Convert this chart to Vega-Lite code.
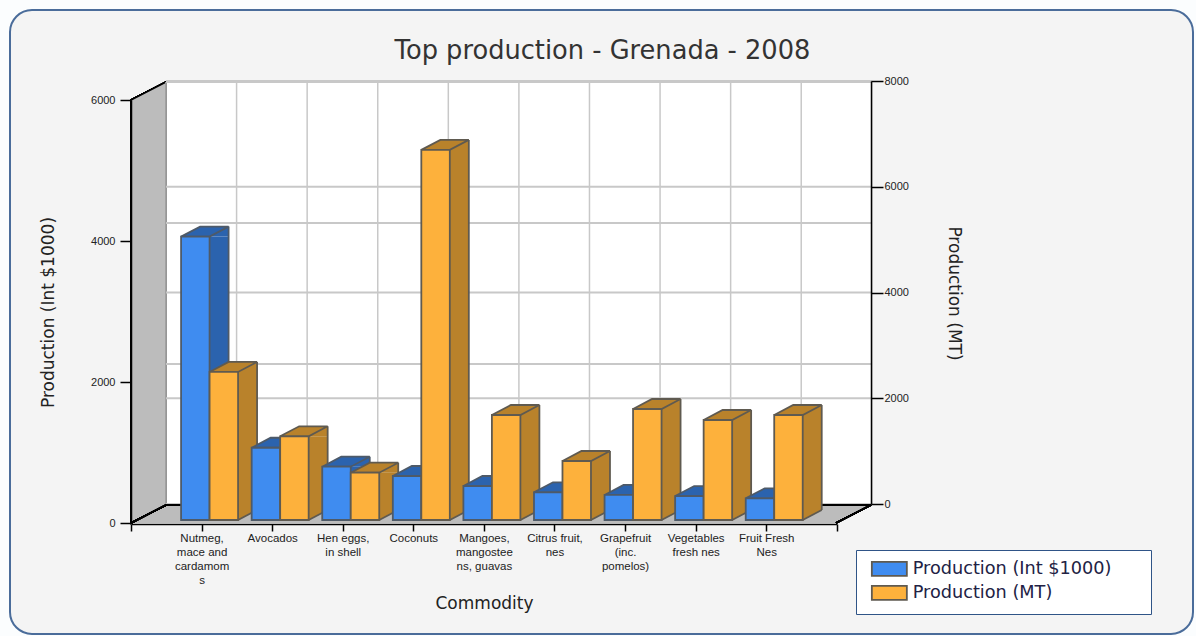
{
  "$schema": "https://vega.github.io/schema/vega-lite/v6.json",
  "width": 1183,
  "height": 624,
  "padding": {"left": 10, "top": 10, "right": 3, "bottom": 2},
  "autosize": "none",
  "background": "#fbfdfe",
  "view": {"fill": "#f4f4f4", "stroke": "#4a6c9a", "strokeWidth": 2, "cornerRadius": 22},
  "title": {
    "text": "Top production - Grenada - 2008",
    "font": "DejaVu Sans",
    "fontSize": 25.7,
    "fontWeight": "normal",
    "color": "#333333",
    "anchor": "middle",
    "frame": "group",
    "offset": 0,
    "dx": 1,
    "dy": 55
  },
  "datasets": {
    "production": [
      {"commodity": "Nutmeg,|mace and|cardamom|s", "series": "Production (Int $1000)", "amount": 4020},
      {"commodity": "Avocados", "series": "Production (Int $1000)", "amount": 1025},
      {"commodity": "Hen eggs,|in shell", "series": "Production (Int $1000)", "amount": 756},
      {"commodity": "Coconuts", "series": "Production (Int $1000)", "amount": 624},
      {"commodity": "Mangoes,|mangostee|ns, guavas", "series": "Production (Int $1000)", "amount": 482},
      {"commodity": "Citrus fruit,|nes", "series": "Production (Int $1000)", "amount": 393},
      {"commodity": "Grapefruit|(inc.|pomelos)", "series": "Production (Int $1000)", "amount": 355},
      {"commodity": "Vegetables|fresh nes", "series": "Production (Int $1000)", "amount": 340},
      {"commodity": "Fruit Fresh|Nes", "series": "Production (Int $1000)", "amount": 308},
      {"commodity": "Nutmeg,|mace and|cardamom|s", "series": "Production (MT)", "amount": 2800},
      {"commodity": "Avocados", "series": "Production (MT)", "amount": 1583},
      {"commodity": "Hen eggs,|in shell", "series": "Production (MT)", "amount": 895},
      {"commodity": "Coconuts", "series": "Production (MT)", "amount": 7000},
      {"commodity": "Mangoes,|mangostee|ns, guavas", "series": "Production (MT)", "amount": 1986},
      {"commodity": "Citrus fruit,|nes", "series": "Production (MT)", "amount": 1116},
      {"commodity": "Grapefruit|(inc.|pomelos)", "series": "Production (MT)", "amount": 2099},
      {"commodity": "Vegetables|fresh nes", "series": "Production (MT)", "amount": 1891},
      {"commodity": "Fruit Fresh|Nes", "series": "Production (MT)", "amount": 1986}
    ],
    "slots": [
      {"commodity": " "},
      {"commodity": "Nutmeg,|mace and|cardamom|s"},
      {"commodity": "Avocados"},
      {"commodity": "Hen eggs,|in shell"},
      {"commodity": "Coconuts"},
      {"commodity": "Mangoes,|mangostee|ns, guavas"},
      {"commodity": "Citrus fruit,|nes"},
      {"commodity": "Grapefruit|(inc.|pomelos)"},
      {"commodity": "Vegetables|fresh nes"},
      {"commodity": "Fruit Fresh|Nes"},
      {"commodity": "  "}
    ],
    "leftTicks": [{"tick": 0}, {"tick": 2000}, {"tick": 4000}, {"tick": 6000}],
    "rightTicks": [{"tick": 0}, {"tick": 2000}, {"tick": 4000}, {"tick": 6000}, {"tick": 8000}]
  },
  "data": {"name": "slots"},
  "resolve": {"scale": {"y": "independent"}, "axis": {"y": "independent"}},
  "layer": [
    {
      "description": "Back wall, floor and side wall of the box, hung from the front-left corner; carries the left and bottom axes",
      "encoding": {
        "x": {
          "datum": " ",
          "type": "nominal",
          "scale": {
            "type": "point",
            "padding": 0,
            "domain": [" ", "Nutmeg,|mace and|cardamom|s", "Avocados", "Hen eggs,|in shell", "Coconuts", "Mangoes,|mangostee|ns, guavas", "Citrus fruit,|nes", "Grapefruit|(inc.|pomelos)", "Vegetables|fresh nes", "Fruit Fresh|Nes", "  "],
            "range": [121, 826.8]
          },
          "axis": {
            "title": "Commodity",
            "titleFont": "DejaVu Sans",
            "titleFontSize": 17,
            "titleFontWeight": "normal",
            "titleColor": "#222222",
            "titleX": 474,
            "titleY": 84,
            "titleBaseline": "alphabetic",
            "offset": -110,
            "domainColor": "#000000",
            "domainWidth": 1.5,
            "tickColor": "#000000",
            "tickWidth": 1.5,
            "tickSize": 7,
            "labelAngle": 0,
            "labelFont": "Liberation Sans",
            "labelFontSize": 11.5,
            "labelColor": "#222222",
            "labelPadding": 1,
            "labelLineHeight": 14,
            "labelOverlap": false,
            "labelBound": false,
            "labelFlush": false,
            "labelExpr": "split(datum.label, '|')",
            "zindex": 1
          }
        },
        "y": {
          "datum": 0,
          "type": "quantitative",
          "scale": {"domain": [0, 6000], "range": [513, 90], "nice": false},
          "axis": {
            "orient": "left",
            "offset": -121,
            "values": [0, 2000, 4000, 6000],
            "format": "d",
            "grid": false,
            "title": "Production (Int $1000)",
            "titleFont": "DejaVu Sans",
            "titleFontSize": 17,
            "titleFontWeight": "normal",
            "titleColor": "#222222",
            "titleX": -83,
            "titleY": 302,
            "titleAngle": -90,
            "titleAlign": "center",
            "titleBaseline": "middle",
            "domainColor": "#000000",
            "domainWidth": 1.5,
            "tickColor": "#000000",
            "tickWidth": 1.5,
            "tickSize": 11,
            "labelFont": "Liberation Sans",
            "labelFontSize": 11,
            "labelColor": "#222222",
            "labelPadding": 5,
            "zindex": 1
          }
        }
      },
      "layer": [
        {"mark": {"type": "point", "shape": "M35,-18V-441H740V-18Z", "size": 4, "filled": true, "opacity": 1, "color": "#ffffff", "strokeWidth": 0}},
        {"mark": {"type": "point", "shape": "M0,0L35,-18H740L705,0Z", "size": 4, "filled": true, "opacity": 1, "color": "#bcbcbc", "strokeWidth": 0}},
        {"mark": {"type": "point", "shape": "M0,0V-423L35,-441V-18Z", "size": 4, "filled": true, "opacity": 1, "fill": "#bcbcbc", "stroke": "#000000", "strokeWidth": 1.5}}
      ]
    },
    {
      "description": "Vertical slot lines on the back wall",
      "data": {"name": "slots"},
      "mark": {"type": "rule", "color": "#c8c8c8", "strokeWidth": 1.5, "xOffset": 35},
      "encoding": {
        "x": {"field": "commodity", "type": "nominal", "scale": {"type": "point", "padding": 0}},
        "y": {"datum": 0, "type": "quantitative", "scale": {"domain": [0, 6000], "range": [495, 72], "nice": false}, "axis": null},
        "y2": {"datum": 6000}
      }
    },
    {
      "description": "Wall gridlines read against the left-hand scale",
      "data": {"name": "leftTicks"},
      "mark": {"type": "rule", "color": "#c8c8c8", "strokeWidth": 2, "xOffset": 35, "x2Offset": 35},
      "encoding": {
        "x": {"datum": " ", "type": "nominal", "scale": {"type": "point", "padding": 0}},
        "x2": {"datum": "  "},
        "y": {"field": "tick", "type": "quantitative", "scale": {"domain": [0, 6000], "range": [495, 72], "nice": false}, "axis": null}
      }
    },
    {
      "description": "Wall gridlines read against the right-hand scale; carries the right axis",
      "data": {"name": "rightTicks"},
      "mark": {"type": "rule", "color": "#c8c8c8", "strokeWidth": 2, "xOffset": 35, "x2Offset": 35},
      "encoding": {
        "x": {"datum": " ", "type": "nominal", "scale": {"type": "point", "padding": 0}},
        "x2": {"datum": "  "},
        "y": {
          "field": "tick",
          "type": "quantitative",
          "scale": {"domain": [0, 8000], "range": [494, 71], "nice": false},
          "axis": {
            "orient": "right",
            "offset": -322,
            "values": [0, 2000, 4000, 6000, 8000],
            "format": "d",
            "grid": false,
            "title": "Production (MT)",
            "titleFont": "DejaVu Sans",
            "titleFontSize": 17,
            "titleFontWeight": "normal",
            "titleColor": "#222222",
            "titleX": 82,
            "titleY": 283,
            "titleAngle": 90,
            "titleAlign": "center",
            "titleBaseline": "middle",
            "domainColor": "#000000",
            "domainWidth": 1.5,
            "tickColor": "#000000",
            "tickWidth": 1.5,
            "tickSize": 12,
            "labelFont": "Liberation Sans",
            "labelFontSize": 11,
            "labelColor": "#222222",
            "labelPadding": 1,
            "zindex": 1
          }
        }
      }
    },
    {
      "description": "Black outline of the floor",
      "encoding": {
        "x": {"datum": " ", "type": "nominal", "scale": {"type": "point", "padding": 0}},
        "y": {"datum": 0, "type": "quantitative", "scale": {"domain": [0, 6000], "range": [513, 90], "nice": false}, "axis": null}
      },
      "mark": {"type": "point", "shape": "M0,0L35,-18H740L705,0", "size": 4, "filled": false, "opacity": 1, "stroke": "#000000", "strokeWidth": 1.5}
    },
    {
      "description": "Side faces of the value bars (left scale)",
      "data": {"name": "production"},
      "transform": [{"filter": "datum.series === 'Production (Int $1000)'"}],
      "encoding": {
        "x": {"field": "commodity", "type": "nominal", "scale": {"type": "point", "padding": 0}},
        "y": {"field": "amount", "type": "quantitative", "scale": {"domain": [0, 6000], "range": [510, 87], "nice": false}, "axis": null}
      },
      "layer": [
        {"mark": {"type": "bar", "size": 19, "xOffset": 17.5, "y2Offset": -10, "color": "#2b63ae"}, "encoding": {"y2": {"datum": 0}}},
        {"mark": {"type": "point", "shape": "M0,0L19,-10V0Z", "size": 4, "filled": true, "opacity": 1, "color": "#2b63ae", "strokeWidth": 0, "xOffset": 8}},
        {
          "mark": {"type": "point", "shape": "M0,0V-10H19Z", "size": 4, "filled": true, "opacity": 1, "color": "#2b63ae", "strokeWidth": 0, "xOffset": 8},
          "encoding": {"y": {"datum": 0, "type": "quantitative", "scale": {"domain": [0, 6000], "range": [510, 87], "nice": false}, "axis": null}}
        },
        {
          "mark": {"type": "point", "shape": "M0,0L19,-10", "size": 4, "filled": false, "opacity": 1, "stroke": "#4e5a68", "strokeWidth": 1.8, "xOffset": 8},
          "encoding": {"y": {"datum": 0, "type": "quantitative", "scale": {"domain": [0, 6000], "range": [510, 87], "nice": false}, "axis": null}}
        },
        {"mark": {"type": "rule", "color": "#4e5a68", "strokeWidth": 1.8, "xOffset": 27, "yOffset": -10, "y2Offset": -10}, "encoding": {"y2": {"datum": 0}}}
      ]
    },
    {
      "description": "Side faces of the value bars (right scale)",
      "data": {"name": "production"},
      "transform": [{"filter": "datum.series === 'Production (MT)'"}],
      "encoding": {
        "x": {"field": "commodity", "type": "nominal", "scale": {"type": "point", "padding": 0}},
        "y": {"field": "amount", "type": "quantitative", "scale": {"domain": [0, 8000], "range": [510, 87], "nice": false}, "axis": null}
      },
      "layer": [
        {"mark": {"type": "bar", "size": 19, "xOffset": 46, "y2Offset": -10, "color": "#b9822b"}, "encoding": {"y2": {"datum": 0}}},
        {"mark": {"type": "point", "shape": "M0,0L19,-10V0Z", "size": 4, "filled": true, "opacity": 1, "color": "#b9822b", "strokeWidth": 0, "xOffset": 36.5}},
        {
          "mark": {"type": "point", "shape": "M0,0V-10H19Z", "size": 4, "filled": true, "opacity": 1, "color": "#b9822b", "strokeWidth": 0, "xOffset": 36.5},
          "encoding": {"y": {"datum": 0, "type": "quantitative", "scale": {"domain": [0, 8000], "range": [510, 87], "nice": false}, "axis": null}}
        },
        {
          "mark": {"type": "point", "shape": "M0,0L19,-10", "size": 4, "filled": false, "opacity": 1, "stroke": "#5f5a50", "strokeWidth": 1.8, "xOffset": 36.5},
          "encoding": {"y": {"datum": 0, "type": "quantitative", "scale": {"domain": [0, 8000], "range": [510, 87], "nice": false}, "axis": null}}
        },
        {"mark": {"type": "rule", "color": "#5f5a50", "strokeWidth": 1.8, "xOffset": 55.5, "yOffset": -10, "y2Offset": -10}, "encoding": {"y2": {"datum": 0}}}
      ]
    },
    {
      "description": "Top faces (left scale)",
      "data": {"name": "production"},
      "transform": [{"filter": "datum.series === 'Production (Int $1000)'"}],
      "mark": {"type": "point", "shape": "M0,0H-28.5L-9.5,-10H19Z", "size": 4, "filled": true, "opacity": 1, "fill": "#2b63ae", "stroke": "#4e5a68", "strokeWidth": 1.8, "xOffset": 8},
      "encoding": {
        "x": {"field": "commodity", "type": "nominal", "scale": {"type": "point", "padding": 0}},
        "y": {"field": "amount", "type": "quantitative", "scale": {"domain": [0, 6000], "range": [510, 87], "nice": false}, "axis": null}
      }
    },
    {
      "description": "Top faces (right scale)",
      "data": {"name": "production"},
      "transform": [{"filter": "datum.series === 'Production (MT)'"}],
      "mark": {"type": "point", "shape": "M0,0H-28.5L-9.5,-10H19Z", "size": 4, "filled": true, "opacity": 1, "fill": "#b9822b", "stroke": "#5f5a50", "strokeWidth": 1.8, "xOffset": 36.5},
      "encoding": {
        "x": {"field": "commodity", "type": "nominal", "scale": {"type": "point", "padding": 0}},
        "y": {"field": "amount", "type": "quantitative", "scale": {"domain": [0, 8000], "range": [510, 87], "nice": false}, "axis": null}
      }
    },
    {
      "description": "Front faces (left scale); these supply the legend",
      "data": {"name": "production"},
      "transform": [{"filter": "datum.series === 'Production (Int $1000)'"}],
      "mark": {"type": "bar", "size": 28.5, "xOffset": -6.25, "stroke": "#4e5a68", "strokeWidth": 1.8},
      "encoding": {
        "x": {"field": "commodity", "type": "nominal", "scale": {"type": "point", "padding": 0}},
        "y": {"field": "amount", "type": "quantitative", "scale": {"domain": [0, 6000], "range": [510, 87], "nice": false}, "axis": null},
        "y2": {"datum": 0},
        "color": {
          "field": "series",
          "type": "nominal",
          "scale": {"domain": ["Production (Int $1000)", "Production (MT)"], "range": ["#3f8cf0", "#fdb13c"]},
          "legend": {
            "orient": "none",
            "legendX": 846,
            "legendY": 540,
            "title": "\u00a0",
            "titleOrient": "right",
            "titlePadding": 30,
            "padding": 10,
            "fillColor": "#ffffff",
            "strokeColor": "#2f5487",
            "symbolType": "M-3,-7H32V7H-3Z",
            "symbolSize": 4,
            "symbolStrokeColor": "#555555",
            "symbolStrokeWidth": 1.8,
            "labelFont": "DejaVu Sans",
            "labelFontSize": 17.7,
            "labelColor": "#222244",
            "labelOffset": 29,
            "rowPadding": 2,
            "labelLimit": 400
          }
        }
      }
    },
    {
      "description": "Front faces (right scale)",
      "data": {"name": "production"},
      "transform": [{"filter": "datum.series === 'Production (MT)'"}],
      "mark": {"type": "bar", "size": 28.5, "xOffset": 22.25, "stroke": "#5f5a50", "strokeWidth": 1.8},
      "encoding": {
        "x": {"field": "commodity", "type": "nominal", "scale": {"type": "point", "padding": 0}},
        "y": {"field": "amount", "type": "quantitative", "scale": {"domain": [0, 8000], "range": [510, 87], "nice": false}, "axis": null},
        "y2": {"datum": 0},
        "color": {"field": "series", "type": "nominal"}
      }
    }
  ]
}
